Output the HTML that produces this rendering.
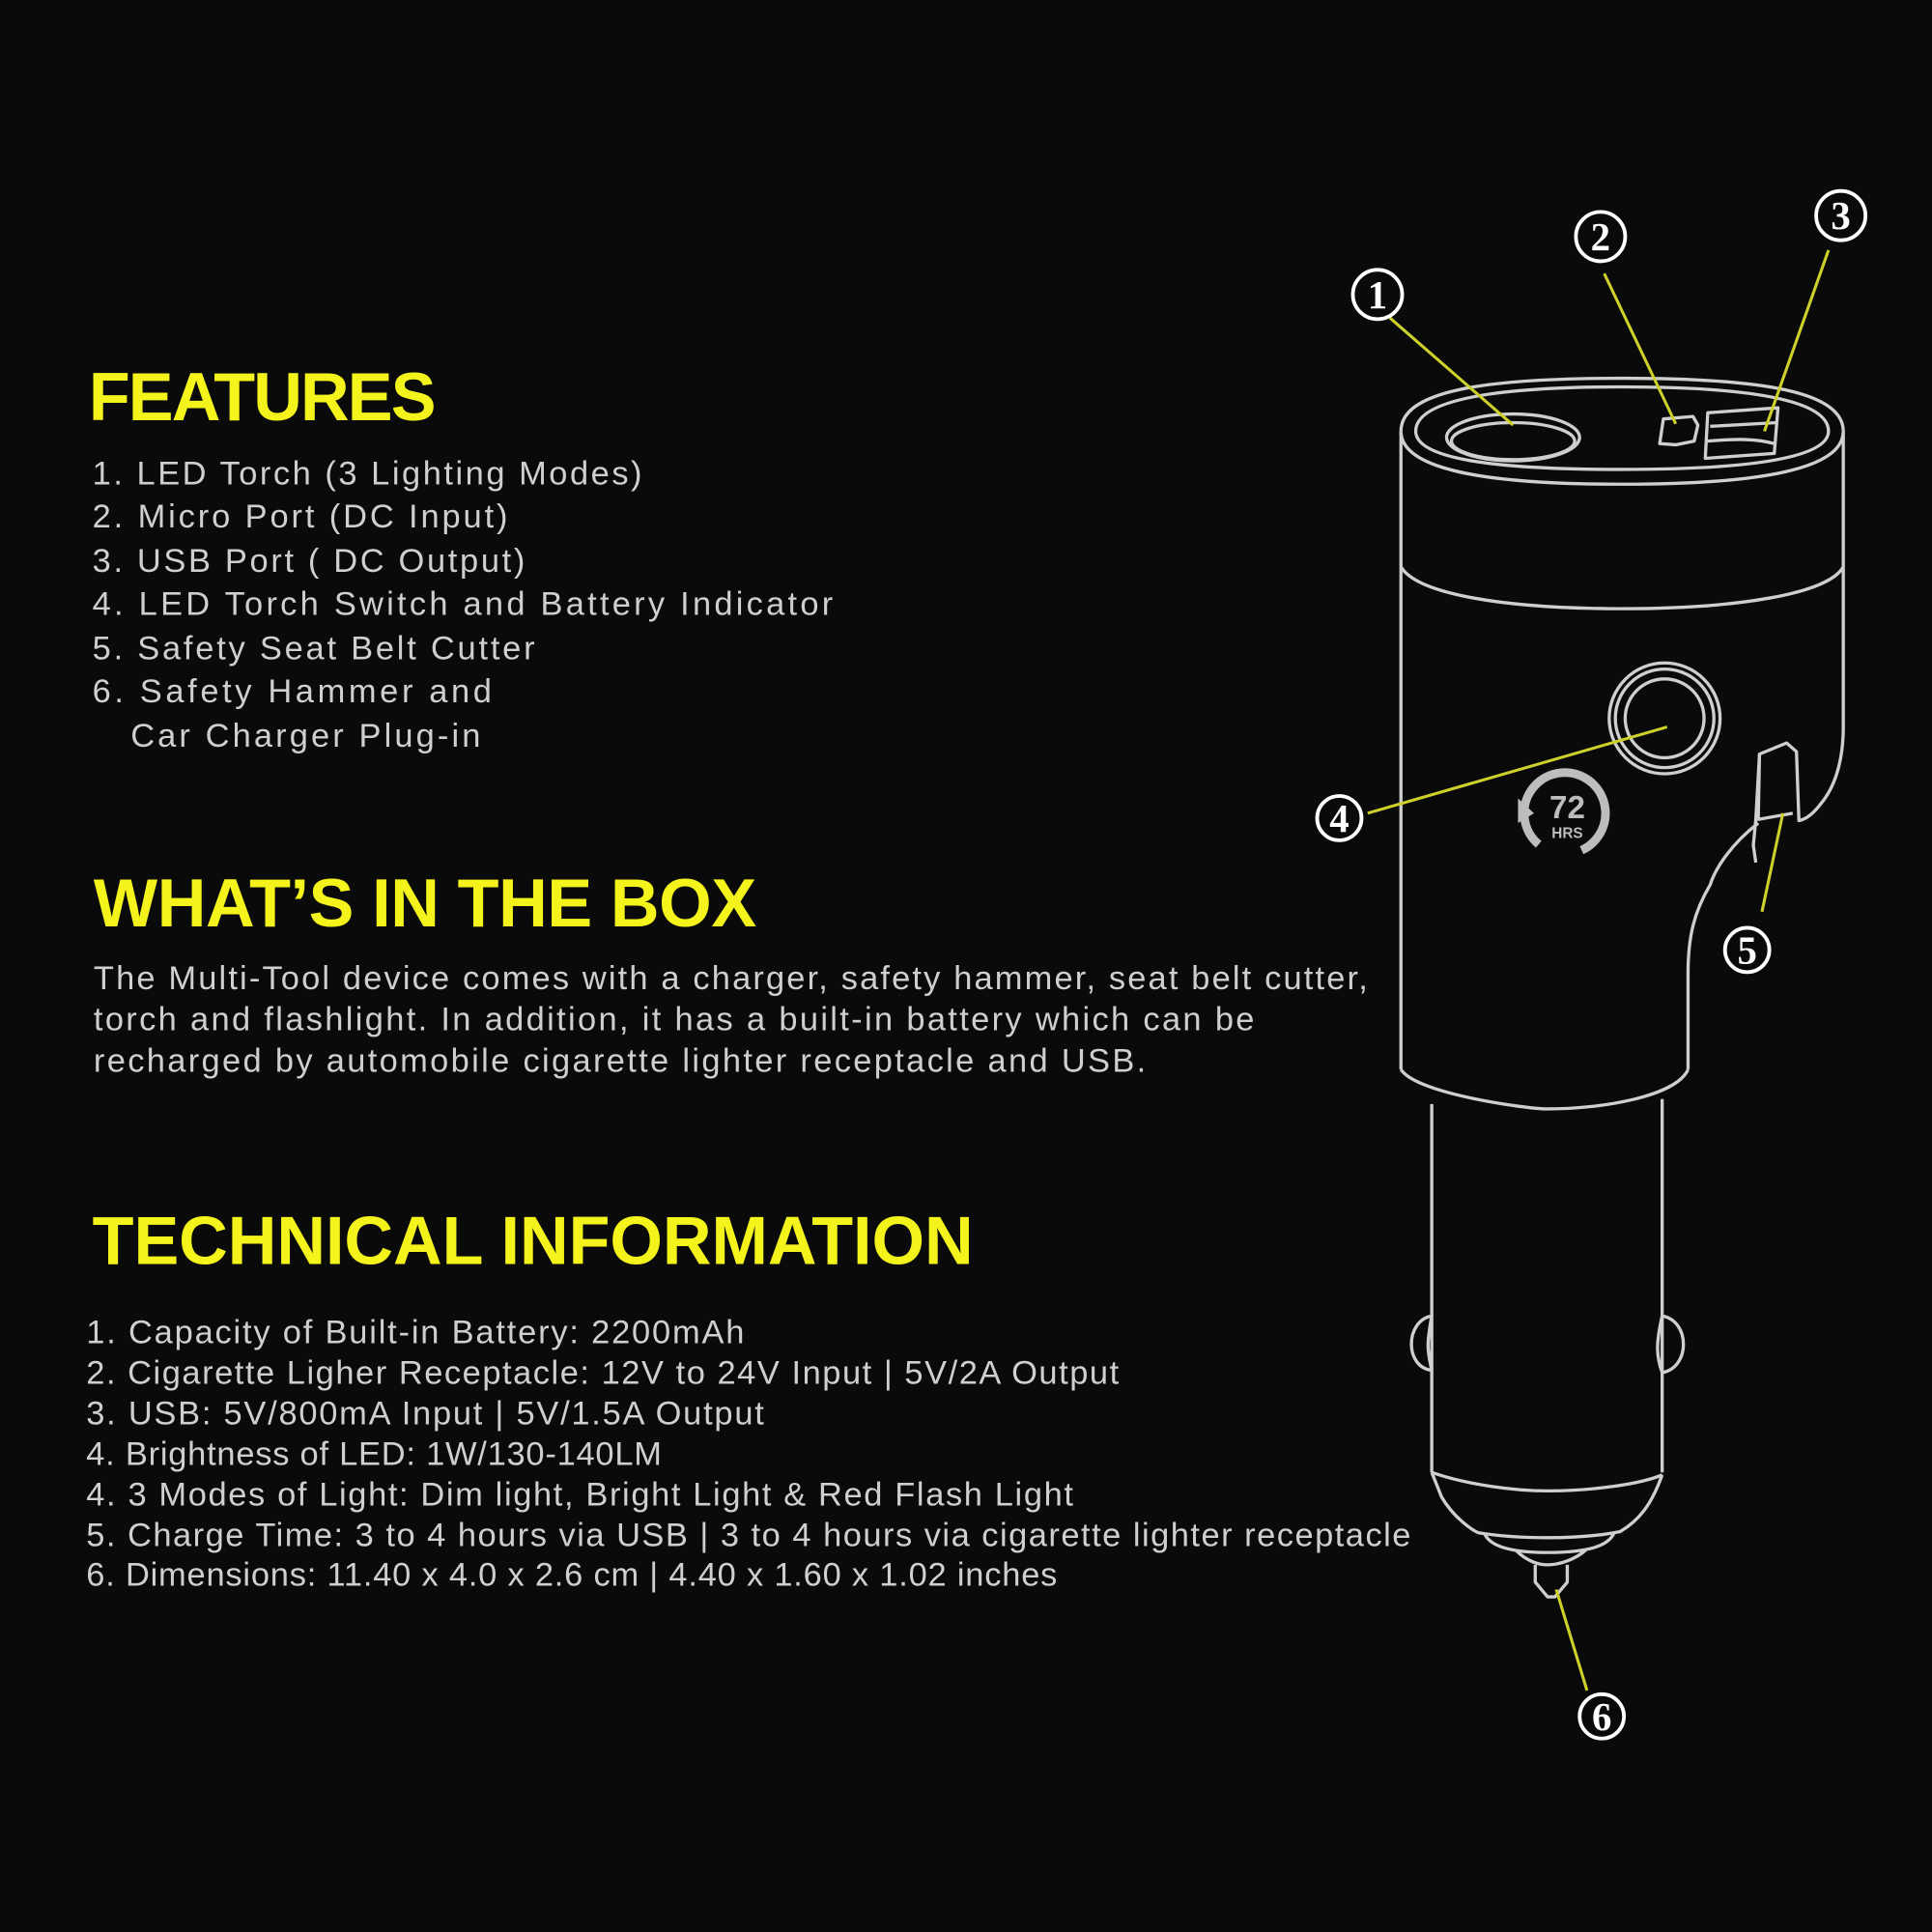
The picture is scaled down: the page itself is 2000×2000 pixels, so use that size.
<!DOCTYPE html>
<html><head><meta charset="utf-8"><style>
html,body{margin:0;padding:0;background:#0a0a0a;}
svg{display:block}
.h{font-family:"Liberation Sans",sans-serif;font-weight:bold;fill:#f4f41c;font-size:55px}
.t{font-family:"Liberation Sans",sans-serif;fill:#cfcfcf;font-size:27px}
.n{font-family:"Liberation Serif",serif;font-weight:bold;fill:#fff;font-size:32px;text-anchor:middle}
.d{fill:none;stroke:#cfcfcf;stroke-width:2.6;stroke-linejoin:round}
.y{stroke:#cdd12a;stroke-width:2.4}
.c{fill:none;stroke:#fff;stroke-width:3}
</style></head><body>
<svg width="2000" height="2000" viewBox="0 0 1568 1568" xmlns="http://www.w3.org/2000/svg">
<rect width="1568" height="1568" fill="#0a0a0a"/>
<text class="h" x="72" y="341" textLength="282">FEATURES</text>
<text class="t" x="75" y="393" textLength="446">1. LED Torch (3 Lighting Modes)</text>
<text class="t" x="75" y="428" textLength="337">2. Micro Port (DC Input)</text>
<text class="t" x="75" y="464" textLength="351">3. USB Port ( DC Output)</text>
<text class="t" x="75" y="499" textLength="601">4. LED Torch Switch and Battery Indicator</text>
<text class="t" x="75" y="535" textLength="359">5. Safety Seat Belt Cutter</text>
<text class="t" x="75" y="570" textLength="324">6. Safety Hammer and</text>
<text class="t" x="106" y="606" textLength="284">Car Charger Plug-in</text>
<text class="h" x="76" y="752" textLength="538">WHAT’S IN THE BOX</text>
<text class="t" x="76" y="803" textLength="1034">The Multi-Tool device comes with a charger, safety hammer, seat belt cutter,</text>
<text class="t" x="76" y="836" textLength="942">torch and flashlight. In addition, it has a built-in battery which can be</text>
<text class="t" x="76" y="870" textLength="854">recharged by automobile cigarette lighter receptacle and USB.</text>
<text class="h" x="75" y="1026" textLength="715">TECHNICAL INFORMATION</text>
<text class="t" x="70" y="1090" textLength="534">1. Capacity of Built-in Battery: 2200mAh</text>
<text class="t" x="70" y="1123" textLength="838">2. Cigarette Ligher Receptacle: 12V to 24V Input | 5V/2A Output</text>
<text class="t" x="70" y="1156" textLength="550">3. USB: 5V/800mA Input | 5V/1.5A Output</text>
<text class="t" x="70" y="1189" textLength="467">4. Brightness of LED: 1W/130-140LM</text>
<text class="t" x="70" y="1222" textLength="801">4. 3 Modes of Light: Dim light, Bright Light &amp; Red Flash Light</text>
<text class="t" x="70" y="1255" textLength="1075">5. Charge Time: 3 to 4 hours via USB | 3 to 4 hours via cigarette lighter receptacle</text>
<text class="t" x="70" y="1287" textLength="788">6. Dimensions: 11.40 x 4.0 x 2.6 cm | 4.40 x 1.60 x 1.02 inches</text>

<!-- device -->
<g class="d">
<path d="M1137,350 C1137,318 1200,307 1316,307 C1432,307 1496,318 1496,350"/>
<path d="M1137,350 C1137,380 1200,393 1316,393 C1432,393 1496,380 1496,350"/>
<path d="M1149,350 C1149,325 1210,314 1316,314 C1422,314 1484,325 1484,350 C1484,370 1430,381 1316,381 C1210,381 1149,372 1149,350Z"/>
<ellipse cx="1228" cy="355" rx="54" ry="19"/>
<ellipse cx="1228" cy="358" rx="50" ry="15"/>
<path d="M1350,340 L1374,338 L1378,345 L1375,358 L1360,361 L1347,360Z"/>
<path d="M1386,335 L1443,331 L1440,368 L1384,372Z M1388,346 L1442,343 M1386,358 C1410,356 1425,356 1440,360"/>
<path d="M1137,350 L1137,868"/>
<path d="M1496,350 L1496,590 C1496,620 1488,640 1478,652 C1472,660 1466,665 1460,666 L1458,610 L1450,603 L1428,612 L1425,665 L1423,686 L1425,700"/>
<path d="M1428,612 L1427,665 L1455,660"/>
<path d="M1427,668 C1405,685 1392,705 1388,718 C1375,740 1370,760 1370,790 L1370,868"/>
<path d="M1137,460 C1150,482 1220,494 1316,494 C1410,494 1484,482 1496,460"/>
<path d="M1137,868 C1150,888 1240,900 1256,900 C1300,900 1360,890 1370,868"/>
<circle cx="1351" cy="583" r="45"/>
<circle cx="1351" cy="583" r="40"/>
<circle cx="1351" cy="583" r="32"/>
<path d="M1162,896 L1162,1195 M1349,892 L1349,1195"/>
<path d="M1162,1068 C1140,1072 1140,1110 1162,1112 M1162,1068 C1158,1090 1158,1095 1162,1112"/>
<path d="M1349,1068 C1372,1072 1372,1110 1349,1114 M1349,1068 C1344,1090 1344,1100 1349,1114"/>
<path d="M1162,1195 C1190,1205 1230,1210 1256,1210 C1290,1210 1330,1205 1349,1197"/>
<path d="M1162,1195 L1170,1215 C1180,1232 1195,1242 1200,1244 C1225,1248 1250,1248 1256,1248 C1280,1248 1300,1246 1315,1243 C1330,1234 1340,1222 1349,1197"/>
<path d="M1205,1245 C1210,1256 1230,1260 1256,1260 C1285,1260 1305,1256 1310,1244"/>
<path d="M1230,1258 C1240,1268 1250,1270 1256,1270 C1265,1270 1278,1266 1287,1258"/>
<path d="M1246,1270 L1246,1284 L1256,1296 L1262,1296 L1272,1284 L1272,1270"/>
</g>
<g>
<circle cx="1270" cy="660" r="33" fill="none" stroke="#bdbdbd" stroke-width="7" stroke-dasharray="170 40" transform="rotate(130 1270 660)"/>
<path d="M1232,648 L1245,660 L1232,668Z" fill="#bdbdbd"/>
<text x="1272" y="664" font-family="Liberation Sans,sans-serif" font-weight="bold" font-size="26" fill="#bdbdbd" text-anchor="middle">72</text>
<text x="1272" y="680" font-family="Liberation Sans,sans-serif" font-weight="bold" font-size="12" fill="#bdbdbd" text-anchor="middle">HRS</text>
</g>
<!-- callouts -->
<g class="y">
<line x1="1128" y1="258" x2="1228" y2="345"/>
<line x1="1302" y1="222" x2="1360" y2="344"/>
<line x1="1484" y1="203" x2="1432" y2="350"/>
<line x1="1110" y1="660" x2="1353" y2="590"/>
<line x1="1430" y1="740" x2="1447" y2="660"/>
<line x1="1288" y1="1372" x2="1263" y2="1290"/>
</g>
<g>
<circle class="c" cx="1118" cy="239" r="20"/><text class="n" x="1118" y="250">1</text>
<circle class="c" cx="1299" cy="192" r="20"/><text class="n" x="1299" y="203">2</text>
<circle class="c" cx="1494" cy="175" r="20"/><text class="n" x="1494" y="186">3</text>
<circle class="c" cx="1087" cy="664" r="18"/><text class="n" x="1087" y="675">4</text>
<circle class="c" cx="1418" cy="771" r="18"/><text class="n" x="1418" y="782">5</text>
<circle class="c" cx="1300" cy="1393" r="18"/><text class="n" x="1300" y="1404">6</text>
</g>
</svg>
</body></html>
